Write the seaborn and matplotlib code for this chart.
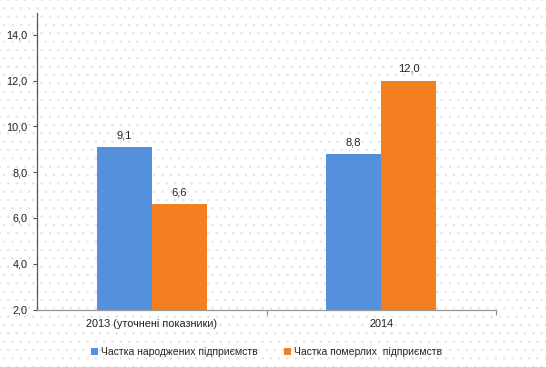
import matplotlib
matplotlib.use("Agg")
import matplotlib.pyplot as plt
import seaborn as sns
import pandas as pd
from matplotlib.ticker import FixedLocator
from matplotlib.patches import Rectangle

categories = ["2013 (уточнені показники)", "2014"]
series_names = ["Частка народжених підприємств", "Частка померлих  підприємств"]
born = [9.1, 8.8]
died = [6.6, 12.0]
yticks = [2.0, 4.0, 6.0, 8.0, 10.0, 12.0, 14.0]

df = pd.DataFrame({
    "cat": categories * 2,
    "series": [series_names[0]] * 2 + [series_names[1]] * 2,
    "value": born + died,
})

sns.set_style("white")
plt.rcParams["font.family"] = ["Liberation Sans", "DejaVu Sans"]
plt.rcParams["hatch.color"] = "#e2e2e2"
plt.rcParams["hatch.linewidth"] = 0.5

fig = plt.figure(figsize=(5.46, 3.67), dpi=100)
# faint dotted background
fig.patches.append(Rectangle((0, 0), 1, 1, transform=fig.transFigure, facecolor="white",
                             edgecolor="#e2e2e2", linewidth=0, hatch="..", zorder=-10))

ax = fig.add_axes([37 / 546, 1 - 309.5 / 367, 459 / 546, (309.5 - 13) / 367])
ax.patch.set_alpha(0)

colors = ["#5590DD", "#F47F20"]
sns.barplot(data=df, x="cat", y="value", hue="series", palette=colors,
            width=0.48, ax=ax, saturation=1, legend=True, linewidth=0)

ax.set_ylim(2.0, 2.0 + (309.5 - 13) / 274.5 * 12)
ax.set_xlim(-0.5, 1.5)
ax.yaxis.set_major_locator(FixedLocator(yticks))
ax.set_yticklabels([f"{v:.1f}".replace(".", ",") for v in yticks])
ax.xaxis.set_major_locator(FixedLocator([0, 1]))
ax.xaxis.set_minor_locator(FixedLocator([0.5, 1.5]))
ax.tick_params(axis="x", which="major", bottom=False, length=0, labelsize=7.8, pad=7,
               labelcolor="#222222")
ax.tick_params(axis="x", which="minor", bottom=True, length=3.5, color="#888888",
               direction="out", width=0.8)
ax.tick_params(axis="y", which="major", left=True, length=3, color="#555555",
               direction="out", width=0.8, labelsize=7.8, labelcolor="#222222", pad=4)
ax.set_xlabel("")
ax.set_ylabel("")

for s in ["top", "right"]:
    ax.spines[s].set_visible(False)
ax.spines["left"].set_color("#555555")
ax.spines["left"].set_linewidth(0.9)
ax.spines["bottom"].set_color("#999999")
ax.spines["bottom"].set_linewidth(0.9)

for container in ax.containers:
    ax.bar_label(container, labels=[f"{v:.1f}".replace(".", ",") for v in container.datavalues],
                 padding=5, fontsize=8, color="#222222")

handles, labels = ax.get_legend_handles_labels()
ax.legend(handles, labels, loc="center", bbox_to_anchor=(266.5 / 546, 1 - 352 / 367),
          bbox_transform=fig.transFigure, ncol=2, frameon=False, fontsize=7.5,
          handlelength=0.6, handleheight=0.6, handletextpad=0.3, columnspacing=2.6)

fig.savefig("out.png", dpi=100)
